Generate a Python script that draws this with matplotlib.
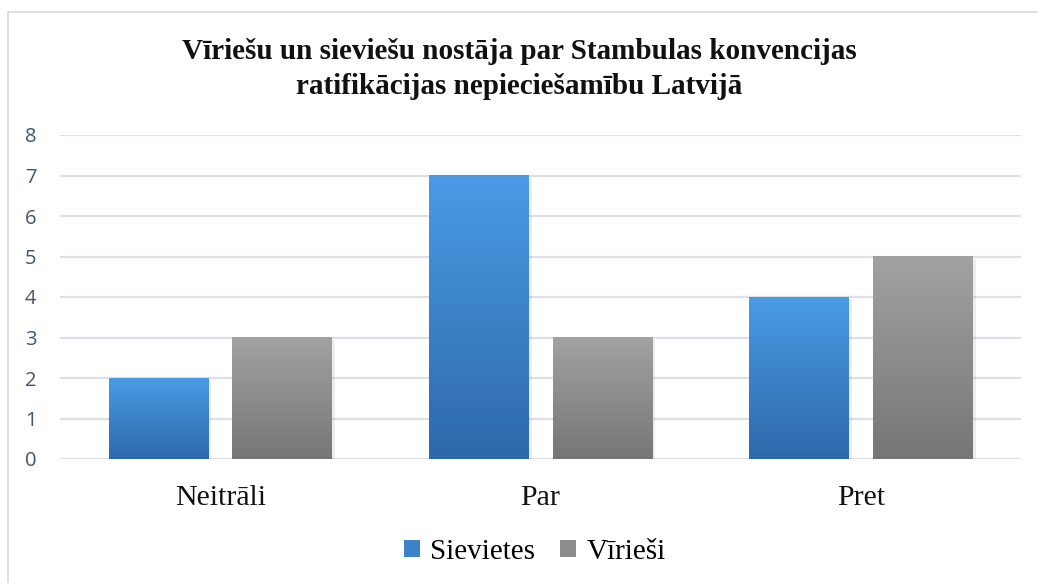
import numpy as np
import matplotlib.pyplot as plt
from matplotlib.patches import Patch
from matplotlib.colors import LinearSegmentedColormap

# data
categories = ["Neitrāli", "Par", "Pret"]
sievietes = [2, 7, 4]
virieši = [3, 3, 5]
series_names = ["Sievietes", "Vīrieši"]
title = "Vīriešu un sieviešu nostāja par Stambulas konvencijas\nratifikācijas nepieciešamību Latvijā"

blue_top, blue_bot = "#4a9be6", "#2d69a9"
gray_top, gray_bot = "#a2a2a2", "#767676"


def gradient_bar(ax, x, h, width, top, bot):
    cmap = LinearSegmentedColormap.from_list("g", [bot, top])
    grad = np.linspace(0, 1, 256).reshape(-1, 1)
    # faint shadow to the lower right
    ax.bar(x + 0.01, h, width, bottom=-0.05, color="#000000", alpha=0.07, zorder=2, linewidth=0)
    ax.imshow(grad, cmap=cmap, origin="lower", aspect="auto",
              extent=(x - width / 2, x + width / 2, 0, h), zorder=3)


fig = plt.figure(figsize=(10.38, 5.83), dpi=100)
ax = fig.add_axes([60 / 1038, 1 - 459 / 583, (1021 - 60) / 1038, (459 - 135) / 583])

x = np.arange(len(categories))
w = 0.31
off = 0.193
for i in range(len(categories)):
    gradient_bar(ax, x[i] - off, sievietes[i], w, blue_top, blue_bot)
    gradient_bar(ax, x[i] + off, virieši[i], w, gray_top, gray_bot)

ax.set_xlim(-0.5, 2.5)
ax.set_ylim(0, 8)
ax.set_yticks(range(0, 9))
for y in range(0, 9):
    ax.axhline(y, color="#dde1e7", lw=1.6, zorder=1)
for s in ax.spines.values():
    s.set_visible(False)
ax.tick_params(axis="y", length=0, pad=17, labelsize=14.5, labelcolor="#44546a")
ax.tick_params(axis="x", length=0, pad=19)
for lbl in ax.get_yticklabels():
    lbl.set_fontfamily("Open Sans")
ax.set_xticks(x)
ax.set_xticklabels(categories, fontfamily="Liberation Serif", fontsize=21.5, color="#111111")

fig.text(0.5, 1 - 69 / 583, title, ha="center", va="center", fontfamily="Liberation Serif",
         fontweight="bold", fontsize=21, linespacing=1.42, color="#111111")

handles = [Patch(facecolor="#3b82c8", edgecolor="none"), Patch(facecolor="#8c8c8c", edgecolor="none")]
fig.legend(handles, series_names, loc="center", bbox_to_anchor=(535 / 1038, 1 - 552 / 583), ncol=2,
           frameon=False, prop={"family": "Liberation Serif", "size": 21},
           handlelength=0.55, handleheight=0.55, handletextpad=0.35, columnspacing=0.85)

# chart border (top and left edges visible)
fig.add_artist(plt.Line2D([8 / 1038, 8 / 1038], [0, 1 - 12 / 583], transform=fig.transFigure,
                          color="#d9d9d9", lw=1.2))
fig.add_artist(plt.Line2D([8 / 1038, 1], [1 - 12 / 583, 1 - 12 / 583], transform=fig.transFigure,
                          color="#d9d9d9", lw=1.2))

fig.savefig("out.png", dpi=100)
